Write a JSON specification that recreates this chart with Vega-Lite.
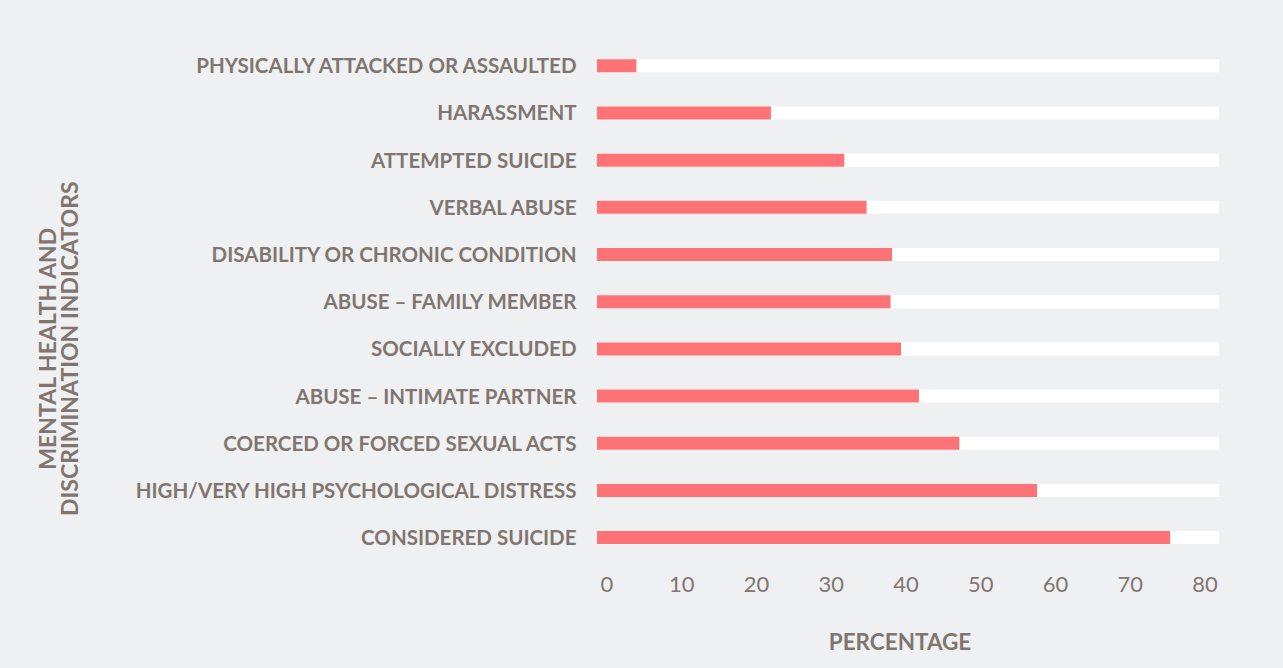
{
  "$schema": "https://vega.github.io/schema/vega-lite/v6.json",
  "autosize": "none",
  "width": 622,
  "height": 519,
  "padding": {"left": 597, "top": 42.2, "right": 64, "bottom": 106.8},
  "background": "#eff0f2",
  "config": {"view": {"stroke": null}, "font": "Lato"},
  "data": {
    "values": [
      {"indicator": "PHYSICALLY ATTACKED OR ASSAULTED", "percentage": 4.0},
      {"indicator": "HARASSMENT", "percentage": 22.0},
      {"indicator": "ATTEMPTED SUICIDE", "percentage": 31.8},
      {"indicator": "VERBAL ABUSE", "percentage": 34.8},
      {"indicator": "DISABILITY OR CHRONIC CONDITION", "percentage": 38.2},
      {"indicator": "ABUSE – FAMILY MEMBER", "percentage": 38.0},
      {"indicator": "SOCIALLY EXCLUDED", "percentage": 39.4},
      {"indicator": "ABUSE – INTIMATE PARTNER", "percentage": 41.8},
      {"indicator": "COERCED OR FORCED SEXUAL ACTS", "percentage": 47.2},
      {"indicator": "HIGH/VERY HIGH PSYCHOLOGICAL DISTRESS", "percentage": 57.6},
      {"indicator": "CONSIDERED SUICIDE", "percentage": 75.4}
    ]
  },
  "encoding": {
    "y": {
      "field": "indicator",
      "type": "nominal",
      "sort": null,
      "scale": {"paddingInner": 0, "paddingOuter": 0},
      "axis": {
        "domain": false,
        "ticks": false,
        "tickSize": 0,
        "labelPadding": 21,
        "labelOffset": 1.5,
        "labelFontSize": 20.5,
        "labelFontWeight": "bold",
        "labelColor": "#80766f",
        "labelLimit": 600,
        "title": ["MENTAL HEALTH AND", "DISCRIMINATION INDICATORS"],
        "titleFontSize": 23,
        "titleFontWeight": "bold",
        "titleColor": "#80766f",
        "titleLineHeight": 22,
        "titleAngle": -90,
        "titleAlign": "center",
        "titleBaseline": "top",
        "titleX": -560,
        "titleY": 306
      }
    }
  },
  "layer": [
    {
      "mark": {"type": "bar", "color": "#ffffff", "size": 13},
      "encoding": {
        "x": {
          "datum": -1.27,
          "type": "quantitative",
          "scale": {"domain": [-1.27, 81.94], "nice": false, "zero": false},
          "axis": {
            "values": [0, 10, 20, 30, 40, 50, 60, 70, 80],
            "labelFlush": false,
            "domain": false,
            "ticks": false,
            "tickSize": 0,
            "grid": false,
            "labelFontSize": 22,
            "labelColor": "#80766f",
            "labelBaseline": "alphabetic",
            "labelPadding": 30,
            "title": "PERCENTAGE",
            "titleFontSize": 22.5,
            "titleFontWeight": "bold",
            "titleColor": "#80766f",
            "titleBaseline": "alphabetic",
            "titleAlign": "center",
            "titleX": 302.5,
            "titleY": 88.5
          }
        },
        "x2": {"datum": 81.94}
      }
    },
    {
      "mark": {"type": "bar", "color": "#ff7275", "size": 13},
      "encoding": {
        "x": {"field": "percentage", "type": "quantitative"},
        "x2": {"datum": -1.27}
      }
    }
  ]
}
